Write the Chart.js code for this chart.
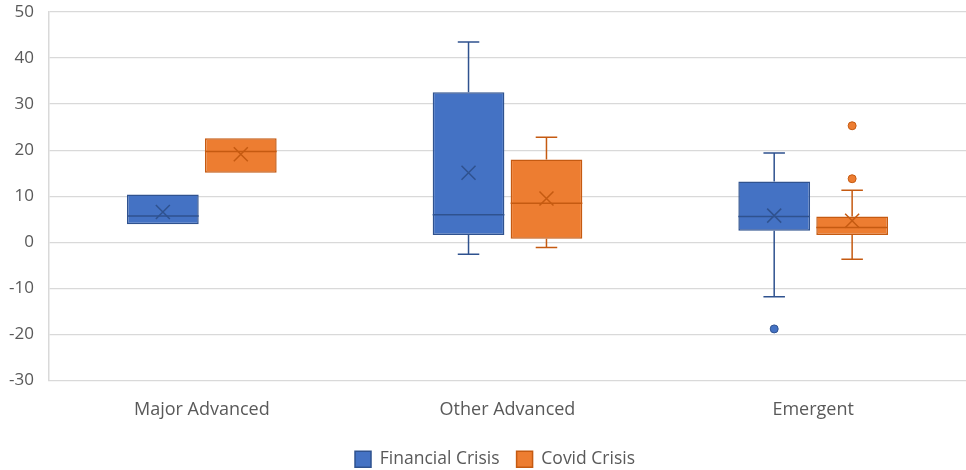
<!DOCTYPE html>
<html>
<head>
<meta charset="utf-8">
<script src="https://cdn.jsdelivr.net/npm/chart.js@4/dist/chart.umd.min.js"></script>
<style>
  html, body { margin: 0; padding: 0; background: #fff; }
  #wrap { width: 966px; height: 470px; }
</style>
</head>
<body>
<div id="wrap"><canvas id="boxes"></canvas></div>
<script>
// box plot stats
var categories = ['Major Advanced', 'Other Advanced', 'Emergent'];
var yTicks = [-30, -20, -10, 0, 10, 20, 30, 40, 50];

var finMin = [3.9, -2.6, -11.8];
var finQ1 = [3.9, 1.6, 2.5];
var finMedian = [5.7, 6.0, 5.6];
var finQ3 = [10.4, 32.6, 13.2];
var finMax = [10.4, 43.5, 19.4];
var finMean = [6.6, 15.1, 5.8];
var finOutliers = [[], [], [-18.8]];

var covMin = [15.1, -1.1, -3.7];
var covQ1 = [15.1, 0.8, 1.6];
var covMedian = [19.7, 8.5, 3.2];
var covQ3 = [22.6, 18.0, 5.6];
var covMax = [22.6, 22.8, 11.3];
var covMean = [19.1, 9.5, 4.7];
var covOutliers = [[], [], [25.3, 13.8]];

var stats = [
  {min: finMin, median: finMedian, max: finMax, mean: finMean, outliers: finOutliers, line: '#2f528f', fill: '#4472c4'},
  {min: covMin, median: covMedian, max: covMax, mean: covMean, outliers: covOutliers, line: '#c55a11', fill: '#ed7d31'}
];

// whiskers, median, mean cross and outliers on top of the floating bars
var boxExtras = {
  id: 'boxExtras',
  afterLayout: function(chart) {
    // legend sits a little right of the canvas centre in the original
    chart.legend.left += 9;
    chart.legend.right += 9;
  },
  afterDatasetsDraw: function(chart) {
    var ctx = chart.ctx;
    var y = chart.scales.y;
    stats.forEach(function(s, di) {
      var meta = chart.getDatasetMeta(di);
      meta.data.forEach(function(bar, i) {
        var cx = bar.x;
        var half = bar.width / 2;
        var top = Math.min(bar.y, bar.base);
        var bottom = Math.max(bar.y, bar.base);
        var cap = bar.width * 0.15;
        ctx.save();
        ctx.strokeStyle = s.line;
        ctx.lineWidth = 1.5;
        var yMax = y.getPixelForValue(s.max[i]);
        var yMin = y.getPixelForValue(s.min[i]);
        ctx.beginPath();
        if (yMax < top - 0.5) {
          ctx.moveTo(cx, top); ctx.lineTo(cx, yMax);
          ctx.moveTo(cx - cap, yMax); ctx.lineTo(cx + cap, yMax);
        }
        if (yMin > bottom + 0.5) {
          ctx.moveTo(cx, bottom); ctx.lineTo(cx, yMin);
          ctx.moveTo(cx - cap, yMin); ctx.lineTo(cx + cap, yMin);
        }
        var yMed = y.getPixelForValue(s.median[i]);
        ctx.moveTo(cx - half, yMed); ctx.lineTo(cx + half, yMed);
        ctx.stroke();

        // mean cross
        var yMean = y.getPixelForValue(s.mean[i]);
        var m = 7;
        ctx.beginPath();
        ctx.moveTo(cx - m, yMean - m); ctx.lineTo(cx + m, yMean + m);
        ctx.moveTo(cx + m, yMean - m); ctx.lineTo(cx - m, yMean + m);
        ctx.stroke();

        s.outliers[i].forEach(function(v) {
          ctx.beginPath();
          ctx.arc(cx, y.getPixelForValue(v), 4, 0, Math.PI * 2);
          ctx.fillStyle = s.fill;
          ctx.fill();
          ctx.lineWidth = 1;
          ctx.stroke();
        });
        ctx.restore();
      });
    });
  }
};

function boxRange(q1, q3) {
  return q1.map(function(v, i) { return [v, q3[i]]; });
}

var ctx = document.getElementById('boxes').getContext('2d');
var myChart = new Chart(ctx, {
  type: 'bar',
  plugins: [boxExtras],
  data: {
    labels: categories,
    datasets: [
      {
        label: 'Financial Crisis',
        data: boxRange(finQ1, finQ3),
        backgroundColor: '#4472c4',
        borderColor: '#2f528f',
        borderWidth: 1.5,
        borderSkipped: false,
        categoryPercentage: 0.51,
        barPercentage: 0.92
      },
      {
        label: 'Covid Crisis',
        data: boxRange(covQ1, covQ3),
        backgroundColor: '#ed7d31',
        borderColor: '#c55a11',
        borderWidth: 1.5,
        borderSkipped: false,
        categoryPercentage: 0.51,
        barPercentage: 0.92
      }
    ]
  },
  options: {
    responsive: true,
    maintainAspectRatio: false,
    animation: false,
    layout: { padding: { top: 12, right: -6, left: 0, bottom: -8 } },
    plugins: {
      tooltip: { enabled: false },
      legend: {
        position: 'bottom',
        labels: {
          boxWidth: 16,
          boxHeight: 16,
          padding: 17,
          color: '#595959',
          font: { family: 'Open Sans', size: 17.5 }
        }
      }
    },
    scales: {
      x: {
        grid: { display: false },
        border: { display: true, color: '#d9d9d9' },
        afterFit: function(scale) { scale.height = 53; },
        ticks: {
          color: '#595959',
          padding: 11,
          font: { family: 'Open Sans', size: 18 }
        }
      },
      y: {
        min: -30,
        max: 50,
        afterBuildTicks: function(scale) {
          scale.ticks = yTicks.map(function(v) { return {value: v}; });
        },
        afterFit: function(scale) {
          scale.width = 49;
          scale.paddingTop = 0;
          scale.paddingBottom = 0;
        },
        grid: { color: '#d9d9d9', lineWidth: 1.3, drawTicks: false },
        border: { display: true, color: '#d9d9d9', width: 1.5 },
        ticks: {
          color: '#595959',
          padding: 15,
          font: { family: 'Open Sans', size: 17 }
        }
      }
    }
  }
});
</script>
</body>
</html>
